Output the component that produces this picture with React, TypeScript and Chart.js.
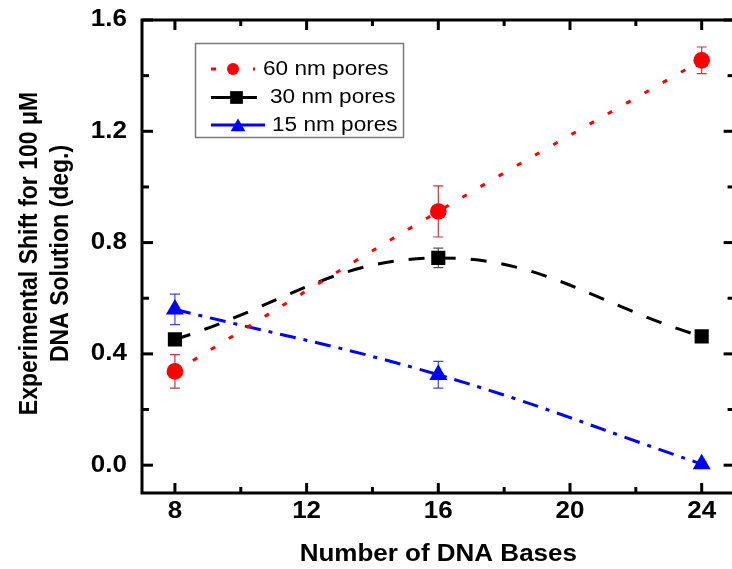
import React, { useEffect, useRef } from "react";
import { Chart, registerables } from "chart.js";

Chart.register(...registerables);

// ---- data ----
const bases = [8, 16, 24];
const shift60 = [0.337, 0.912, 1.455];
const err60 = [0.06, 0.092, 0.048];
const shift30 = [0.452, 0.745, 0.463];
const err30 = [0.015, 0.035, 0.012];
const shift15 = [0.56, 0.325, 0.004];
const err15 = [0.055, 0.048, 0.008];

const xMajorTicks = [8, 12, 16, 20, 24];
const xMinorTicks = [10, 14, 18, 22];
const xTickLabels = ["8", "12", "16", "20", "24"];
const yMajorTicks = [0, 0.4, 0.8, 1.2, 1.6];
const yMinorTicks = [0.2, 0.6, 1.0, 1.4];
const yTickLabels = ["0.0", "0.4", "0.8", "1.2", "1.6"];

const seriesNames = ["60 nm pores", "30 nm pores", "15 nm pores"];
const xTitle = "Number of DNA Bases";
const yTitleLines = ["Experimental Shift for 100 \u03bcM", "DNA Solution (deg.)"];

// ---- styles ----
const FONT = '"Liberation Sans", Arial, Helvetica, sans-serif';
const SX = 1.13; // horizontal stretch of the reference's text
const CANVAS_W = 745;
const CANVAS_H = 569;

const seriesStyles = [
  { color: "#ff0000", err: "#c23a3a", dash: [5, 16], style: "circle", radius: 8.3, legR: 6 },
  { color: "#000000", err: "#555555", dash: [16, 15], style: "rect", radius: 10, legR: 9 },
  { color: "#0000ff", err: "#4646d2", dash: [16, 8, 4, 8], style: "triangle", radius: 10.4, legR: 8.5 },
];

function text(ctx: CanvasRenderingContext2D, s: string, x: number, y: number, font: string, align: CanvasTextAlign) {
  ctx.save();
  ctx.translate(x, y);
  ctx.scale(SX, 1);
  ctx.font = font;
  ctx.textAlign = align;
  ctx.textBaseline = "middle";
  ctx.fillStyle = "#000";
  ctx.fillText(s, 0, 0);
  ctx.restore();
}

function marker(ctx: CanvasRenderingContext2D, style: string, x: number, y: number, r: number, color: string) {
  ctx.save();
  ctx.fillStyle = color;
  ctx.beginPath();
  if (style === "circle") {
    ctx.arc(x, y, r, 0, Math.PI * 2);
  } else if (style === "rect") {
    const h = r * Math.SQRT1_2;
    ctx.rect(x - h, y - h, 2 * h, 2 * h);
  } else {
    ctx.moveTo(x, y - r);
    ctx.lineTo(x + r * Math.sin((2 * Math.PI) / 3), y + r / 2);
    ctx.lineTo(x - r * Math.sin((2 * Math.PI) / 3), y + r / 2);
    ctx.closePath();
  }
  ctx.fill();
  ctx.restore();
}

const allValues = [shift60, shift30, shift15];
const allErrors = [err60, err30, err15];

const decorPlugin = {
  id: "decor",
  beforeDatasetsDraw(chart: any) {
    const ctx: CanvasRenderingContext2D = chart.ctx;
    const xs = chart.scales.x;
    const ys = chart.scales.y;
    ctx.save();
    ctx.lineWidth = 1.2;
    allValues.forEach((vals, i) => {
      ctx.strokeStyle = seriesStyles[i].err;
      vals.forEach((v, j) => {
        const e = allErrors[i][j];
        const px = xs.getPixelForValue(bases[j]);
        const t = ys.getPixelForValue(v + e);
        const b = ys.getPixelForValue(v - e);
        ctx.beginPath();
        ctx.moveTo(px, t);
        ctx.lineTo(px, b);
        ctx.moveTo(px - 5, t);
        ctx.lineTo(px + 5, t);
        ctx.moveTo(px - 5, b);
        ctx.lineTo(px + 5, b);
        ctx.stroke();
      });
    });
    ctx.restore();
  },
  afterDraw(chart: any) {
    const ctx: CanvasRenderingContext2D = chart.ctx;
    const { left, right, top, bottom } = chart.chartArea;
    const xs = chart.scales.x;
    const ys = chart.scales.y;
    ctx.save();
    // frame
    ctx.strokeStyle = "#000";
    ctx.lineWidth = 3;
    ctx.strokeRect(left, top, right - left, bottom - top);
    // ticks (inward, mirrored)
    const tick = (x1: number, y1: number, x2: number, y2: number) => {
      ctx.beginPath();
      ctx.moveTo(x1, y1);
      ctx.lineTo(x2, y2);
      ctx.stroke();
    };
    xMajorTicks.forEach((v) => {
      const p = xs.getPixelForValue(v);
      tick(p, bottom, p, bottom - 10);
      tick(p, top, p, top + 10);
    });
    xMinorTicks.forEach((v) => {
      const p = xs.getPixelForValue(v);
      tick(p, bottom, p, bottom - 6);
      tick(p, top, p, top + 6);
    });
    yMajorTicks.forEach((v) => {
      const p = ys.getPixelForValue(v);
      tick(left, p, left + 11, p);
      tick(right, p, right - 11, p);
    });
    yMinorTicks.forEach((v) => {
      const p = ys.getPixelForValue(v);
      tick(left, p, left + 7, p);
      tick(right, p, right - 7, p);
    });
    // tick labels
    const tickFont = `bold 23px ${FONT}`;
    xMajorTicks.forEach((v, i) => text(ctx, xTickLabels[i], xs.getPixelForValue(v), bottom + 19, tickFont, "center"));
    yMajorTicks.forEach((v, i) => text(ctx, yTickLabels[i], left - 15, ys.getPixelForValue(v), tickFont, "right"));
    // axis titles
    const titleFont = `bold 23px ${FONT}`;
    text(ctx, xTitle, (left + right) / 2, bottom + 62, titleFont, "center");
    const cy = (top + bottom) / 2 - 3;
    [30, 61].forEach((x, i) => {
      ctx.save();
      ctx.translate(x, cy);
      ctx.scale(SX, 1);
      ctx.rotate(-Math.PI / 2);
      ctx.font = titleFont;
      ctx.textAlign = "center";
      ctx.textBaseline = "middle";
      ctx.fillStyle = "#000";
      ctx.fillText(yTitleLines[i], 0, 0);
      ctx.restore();
    });
    // legend
    ctx.fillStyle = "#fff";
    ctx.fillRect(195.5, 43.5, 208, 94);
    ctx.strokeStyle = "#7a7a7a";
    ctx.lineWidth = 1.5;
    ctx.strokeRect(195.5, 43.5, 208, 94);
    const rowY = [69, 97.5, 125];
    const lineEnd = [255, 257, 265];
    const markX = [233, 236.5, 238];
    const textX = [263, 270, 272];
    seriesNames.forEach((name, i) => {
      const st = seriesStyles[i];
      ctx.save();
      ctx.strokeStyle = st.color;
      ctx.lineWidth = 3;
      ctx.setLineDash(i === 0 ? st.dash : []);
      ctx.beginPath();
      ctx.moveTo(211, rowY[i]);
      ctx.lineTo(lineEnd[i], rowY[i]);
      ctx.stroke();
      ctx.restore();
      marker(ctx, st.style, markX[i], rowY[i] + (st.style === "triangle" ? 2 : 0), st.legR, st.color);
      text(ctx, name, textX[i], rowY[i], `20px ${FONT}`, "left");
    });
    ctx.restore();
  },
};

export default function App() {
  const ref = useRef<HTMLCanvasElement | null>(null);
  useEffect(() => {
    const canvas = ref.current;
    if (!canvas) return;
    const datasets = allValues.map((vals, i) => {
      const st = seriesStyles[i];
      return {
        label: seriesNames[i],
        data: bases.map((x, j) => ({ x, y: vals[j] })),
        borderColor: st.color,
        backgroundColor: st.color,
        borderWidth: 3,
        borderDash: st.dash,
        borderCapStyle: "butt" as const,
        tension: 0.4,
        fill: false,
        pointStyle: st.style as any,
        pointRadius: st.radius,
        pointBorderWidth: 0,
        pointBackgroundColor: st.color,
        pointBorderColor: st.color,
      };
    });
    const chart = new Chart(canvas, {
      type: "line",
      data: { datasets },
      options: {
        animation: false,
        responsive: false,
        devicePixelRatio: 1,
        events: [],
        layout: { padding: { left: 142, top: 20, right: CANVAS_W - 739, bottom: CANVAS_H - 493 } },
        plugins: { legend: { display: false }, tooltip: { enabled: false } },
        scales: {
          x: { type: "linear", min: 7, max: 25, display: false },
          y: { type: "linear", min: -0.1, max: 1.6, display: false },
        },
      },
      plugins: [decorPlugin],
    });
    return () => chart.destroy();
  }, []);
  return (
    <div style={{ position: "fixed", left: 0, top: 0, width: 732, height: 569, overflow: "hidden", background: "#fff" }}>
      <canvas ref={ref} width={CANVAS_W} height={CANVAS_H} style={{ width: CANVAS_W, height: CANVAS_H, display: "block" }} />
    </div>
  );
}
